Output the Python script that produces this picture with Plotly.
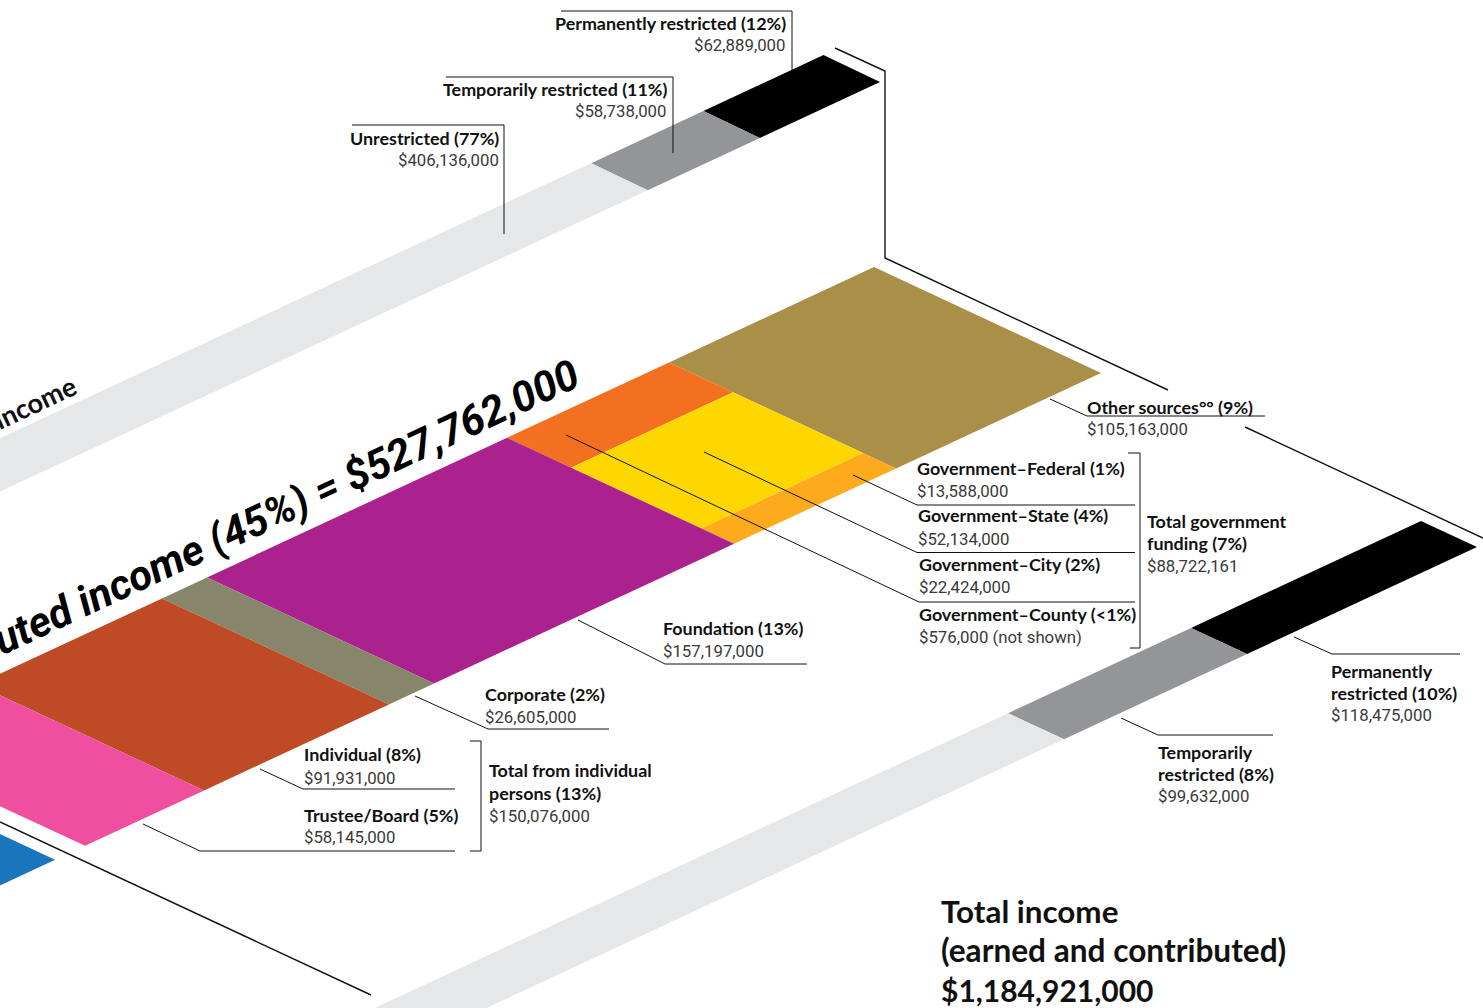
import plotly.graph_objects as go

# ---- data (dollars in millions; *_drawn = band length) ----
main_names = ["Other sources", "Government", "Foundation", "Corporate", "Individual", "Trustee/Board"]
main_values = [105.163, 88.722, 157.197, 26.605, 91.931, 58.145]
main_drawn = [107.3, 84.8, 157.1, 23.6, 96.8, 62.3]
main_colors = ["#A98F47", None, "#AB218E", "#88866A", "#BF4A26", "#F04E9E"]
gov_names = ["City", "State", "Federal"]
gov_share = [28.2, 57.3, 14.5]
gov_colors = ["#F37021", "#FFD700", "#FDAB1D"]
earned_gap = 15.7
earned_value = 657.159
earned_color = "#1B75BC"
top_values = [62.889, 58.738, 406.136]
top_colors = ["#000000", "#939598", "#E6E7E8"]
bottom_names = ["Permanently restricted", "Temporarily restricted", "Unrestricted"]
bottom_drawn = [120.4, 95.8, 968.7]
bottom_colors = ["#000000", "#939598", "#E6E7E8"]

BOLD = "Lato"
REG = "Roboto"
bold_labels = [
    ("Permanently restricted (12%)", 788, 23, "right"),
    ("Temporarily restricted (11%)", 669, 89, "right"),
    ("Unrestricted (77%)", 501, 138, "right"),
    ("Other sources°° (9%)", 1085, 407, "left"),
    ("Government–Federal (1%)", 915, 468, "left"),
    ("Government–State (4%)", 916, 515, "left"),
    ("Government–City (2%)", 917, 564, "left"),
    ("Government–County (<1%)", 917, 614, "left"),
    ("Total government", 1145, 521, "left"),
    ("funding (7%)", 1145, 543, "left"),
    ("Foundation (13%)", 661, 628, "left"),
    ("Corporate (2%)", 483, 694, "left"),
    ("Individual (8%)", 302, 754, "left"),
    ("Trustee/Board (5%)", 302, 815, "left"),
    ("Total from individual", 487, 770, "left"),
    ("persons (13%)", 487, 793, "left"),
    ("Permanently", 1329, 671, "left"),
    ("restricted (10%)", 1329, 693, "left"),
    ("Temporarily", 1156, 752, "left"),
    ("restricted (8%)", 1156, 774, "left"),
]
amount_labels = [
    ("$62,889,000", 788, 45, "right"),
    ("$58,738,000", 669, 111, "right"),
    ("$406,136,000", 501, 160, "right"),
    ("$105,163,000", 1085, 429, "left"),
    ("$13,588,000", 915, 491, "left"),
    ("$52,134,000", 916, 539, "left"),
    ("$22,424,000", 917, 587, "left"),
    ("$576,000 (not shown)", 917, 637, "left"),
    ("$88,722,161", 1145, 566, "left"),
    ("$157,197,000", 661, 651, "left"),
    ("$26,605,000", 483, 717, "left"),
    ("$91,931,000", 302, 778, "left"),
    ("$58,145,000", 302, 837, "left"),
    ("$150,076,000", 487, 816, "left"),
    ("$118,475,000", 1329, 715, "left"),
    ("$99,632,000", 1156, 796, "left"),
]
title_lines = [("Total income", 911, 31.4), ("(earned and contributed)", 950, 31.6), ("$1,184,921,000", 990, 30)]

# ---- isometric projection: u = dollars along the band, v = 0..1 across it ----
SCALE_X, SCALE_Y = -1.91, 0.889


def project(origin, across, u, v):
    return (origin[0] + u * SCALE_X + v * across[0], origin[1] + u * SCALE_Y + v * across[1])


def band(fig, origin, across, u0, u1, color, name, v0=0.0, v1=1.0):
    corners = [project(origin, across, u0, v0), project(origin, across, u1, v0),
               project(origin, across, u1, v1), project(origin, across, u0, v1)]
    xs = [c[0] for c in corners] + [corners[0][0]]
    ys = [c[1] for c in corners] + [corners[0][1]]
    fig.add_trace(go.Scatter(x=xs, y=ys, mode="lines", fill="toself", fillcolor=color,
                             line=dict(width=0, color=color), hoverinfo="skip", name=name))


fig = go.Figure()
MAIN_O, MAIN_A = (874, 267), (227, 106)
TOP_O, TOP_A = (823.5, 55), (56.5, 27)
BOT_O, BOT_A = (1421, 521), (56, 26)

u = 0.0
for n, d, c in zip(main_names, main_drawn, main_colors):
    if c is None:
        v = 0.0
        total = sum(gov_share)
        for gn, gs, gc in zip(gov_names, gov_share, gov_colors):
            band(fig, MAIN_O, MAIN_A, u, u + d, gc, gn, v, v + gs / total)
            v += gs / total
    else:
        band(fig, MAIN_O, MAIN_A, u, u + d, c, n)
    u += d
band(fig, MAIN_O, MAIN_A, u + earned_gap, u + earned_gap + earned_value, earned_color, "Earned")

u = 0.0
for d, c in zip(top_values, top_colors):
    band(fig, TOP_O, TOP_A, u, u + d, c, "Contributed")
    u += d
u = 0.0
for n, d, c in zip(bottom_names, bottom_drawn, bottom_colors):
    band(fig, BOT_O, BOT_A, u, u + d, c, n)
    u += d

# ---- leader lines and brackets ----
polylines = [
    [(561, 11), (792, 11), (792, 70)],
    [(446, 77), (673, 77), (673, 153)],
    [(352, 125), (504, 125), (504, 234)],
    [(835, 48), (885, 71), (885, 258), (1168, 390)],
    [(1245, 427), (1483, 538)],
    [(0, 822), (371, 995)],
    [(1050, 399), (1087, 416), (1265, 416)],
    [(853, 475), (917, 505), (1135, 505)],
    [(704, 452), (917, 552.5), (1135, 552.5)],
    [(566, 435), (919, 602), (1135, 602)],
    [(1128, 453), (1140, 453), (1140, 648), (1130, 648)],
    [(578, 620), (665, 664), (807, 664)],
    [(415, 696), (488, 729), (609, 729)],
    [(260, 769), (303, 789), (455, 789)],
    [(143, 824), (200, 851), (455, 851)],
    [(470, 741), (481, 741), (481, 851), (470, 851)],
    [(1294, 637), (1332, 654), (1460, 654)],
    [(1121, 718), (1158, 735), (1273, 735)],
]
for i, pts in enumerate(polylines):
    path = "M " + " L ".join(f"{x},{y}" for x, y in pts)
    fig.add_shape(type="path", path=path, layer="above",
                  line=dict(color="#111111", width=1.4 if i in (3, 4, 5) else 1))

# ---- text ----
for t, x, y, a in bold_labels:
    fig.add_annotation(x=x, y=y, text=f"<b>{t}</b>", xanchor=a, yanchor="middle", showarrow=False,
                       font=dict(family=BOLD, size=17.9, color="#111111"))
for t, x, y, a in amount_labels:
    fig.add_annotation(x=x, y=y, text=t, xanchor=a, yanchor="middle", showarrow=False,
                       font=dict(family=REG, size=16.8, color="#3a3a3a"))
for t, y, s in title_lines:
    fig.add_annotation(x=939, y=y, text=f"<b>{t}</b>", xanchor="left", yanchor="middle", showarrow=False,
                       font=dict(family=BOLD, size=s, color="#111111"))
fig.add_annotation(x=225, y=535, text="<b><i>Contributed income (45%) = $527,762,000</i></b>", textangle=-25,
                   showarrow=False, font=dict(family="Roboto", size=42, color="#000000"))
fig.add_annotation(x=34, y=402, text="<b>income</b>", textangle=-25, showarrow=False,
                   font=dict(family=BOLD, size=27, color="#111111"))

fig.update_layout(
    width=1483, height=1008, margin=dict(l=0, r=0, t=0, b=0), showlegend=False,
    plot_bgcolor="#FFFFFF", paper_bgcolor="#FFFFFF",
    xaxis=dict(range=[0, 1483], visible=False, fixedrange=True),
    yaxis=dict(range=[1008, 0], visible=False, fixedrange=True),
)
fig.write_html("out.html", config=dict(displayModeBar=False),
               post_script="document.body.style.margin='0';document.body.style.overflow='hidden';")
